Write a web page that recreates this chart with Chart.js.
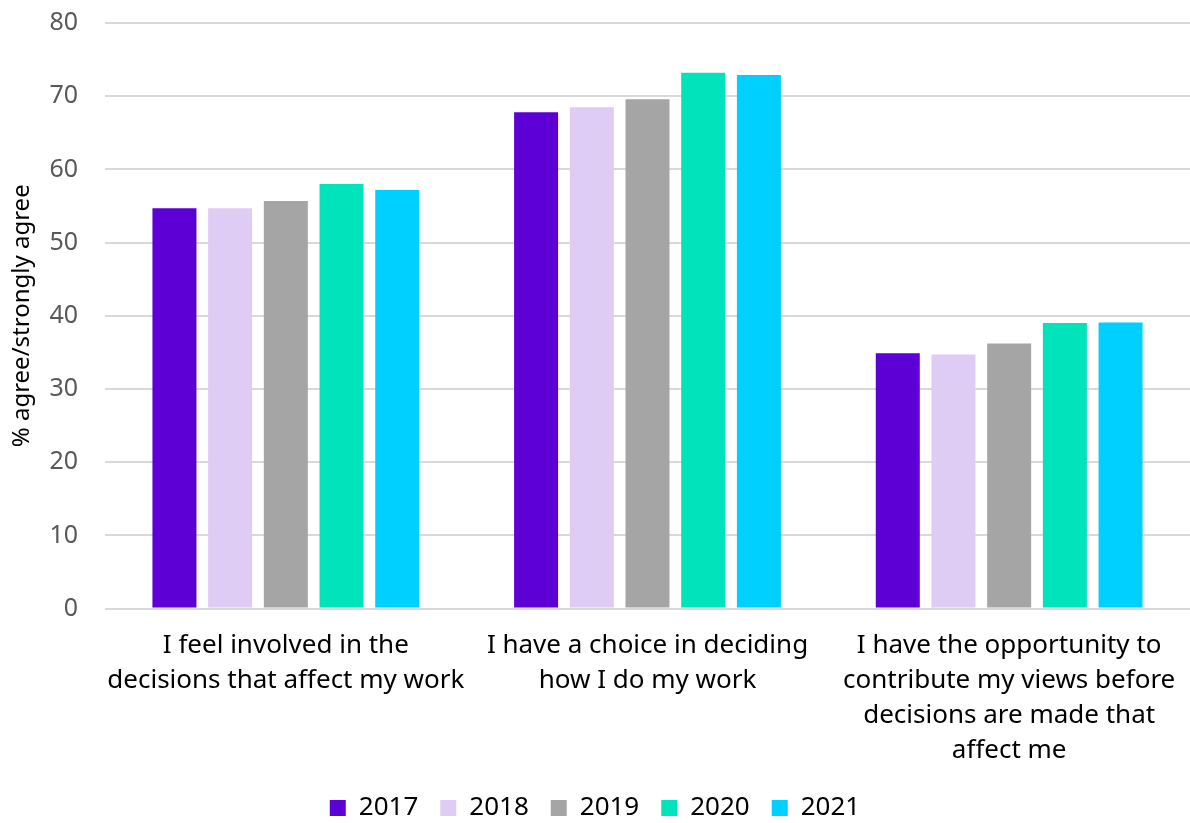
<!DOCTYPE html>
<html>
<head>
<meta charset="utf-8">
<title>agree / strongly agree</title>
<script src="https://cdn.jsdelivr.net/npm/chart.js@4.4.1/dist/chart.umd.min.js"></script>
<style>
	body { margin: 0; background: #ffffff; }
	.chartbox { width: 1190px; height: 823px; }
</style>
</head>
<body>
<div class="chartbox"><canvas id="myChart"></canvas></div>
<script>
// ---------------- data -----------------//
const categories = [
	['I feel involved in the', 'decisions that affect my work'],
	['I have a choice in deciding', 'how I do my work'],
	['I have the opportunity to', 'contribute my views before', 'decisions are made that', 'affect me']
];
const years = ['2017', '2018', '2019', '2020', '2021'];
const values2017 = [54.7, 67.8, 34.9];
const values2018 = [54.7, 68.5, 34.7];
const values2019 = [55.7, 69.6, 36.2];
const values2020 = [58.0, 73.2, 39.0];
const values2021 = [57.2, 72.9, 39.1];
const yTicks = [0, 10, 20, 30, 40, 50, 60, 70, 80];

const seriesValues = [values2017, values2018, values2019, values2020, values2021];
const colors = ['#5c00d5', '#dfccf5', '#a5a5a5', '#00e3bb', '#00d0ff'];

const fontName = '"Noto Sans", "Liberation Sans", sans-serif';

// datasets 구성
let datasets = [];
years.forEach((y, i) => {
	datasets.push({
		label: y,
		data: seriesValues[i],
		backgroundColor: colors[i],
		borderWidth: 0,
		categoryPercentage: 0.77,
		barPercentage: 0.79
	});
});

// 범례를 x축 라벨 쪽으로 조금 올림
const legendShift = {
	id: 'legendShift',
	afterLayout: (chart) => {
		chart.legend.top -= 14;
		chart.legend.bottom -= 14;
	}
};

const ctx = document.getElementById('myChart');

new Chart(ctx, {
	type: 'bar',
	data: {
		labels: categories,
		datasets: datasets
	},
	plugins: [legendShift],
	options: {
		responsive: true,
		maintainAspectRatio: false,
		animation: false,
		layout: { padding: { top: 0, right: 0, left: 0, bottom: -22 } },
		plugins: {
			tooltip: { enabled: false },
			legend: {
				position: 'bottom',
				labels: {
					boxWidth: 16,
					boxHeight: 16,
					padding: 22,
					color: '#000000',
					font: { family: fontName, size: 26 }
				}
			}
		},
		scales: {
			x: {
				afterFit: (scale) => {
					scale.paddingLeft = 0;
					scale.paddingRight = 0;
				},
				grid: { display: false, drawTicks: false },
				border: { display: false },
				ticks: {
					color: '#000000',
					padding: 19,
					maxRotation: 0,
					autoSkip: false,
					font: { family: fontName, size: 26, lineHeight: 1.35 }
				}
			},
			y: {
				min: 0,
				max: 80,
				afterFit: (scale) => {
					scale.width = 105;
					scale.paddingTop = 23;
				},
				afterBuildTicks: (scale) => { scale.ticks = yTicks.map(v => ({ value: v })); },
				grid: { color: '#d9d9d9', lineWidth: 2, drawTicks: false },
				border: { display: false },
				ticks: {
					color: '#595959',
					padding: 27,
					font: { family: fontName, size: 25 }
				},
				title: {
					display: true,
					text: '% agree/strongly agree',
					color: '#000000',
					padding: { top: 8, bottom: 0 },
					font: { family: fontName, size: 24, lineHeight: 1.2 }
				}
			}
		}
	}
});
</script>
</body>
</html>
